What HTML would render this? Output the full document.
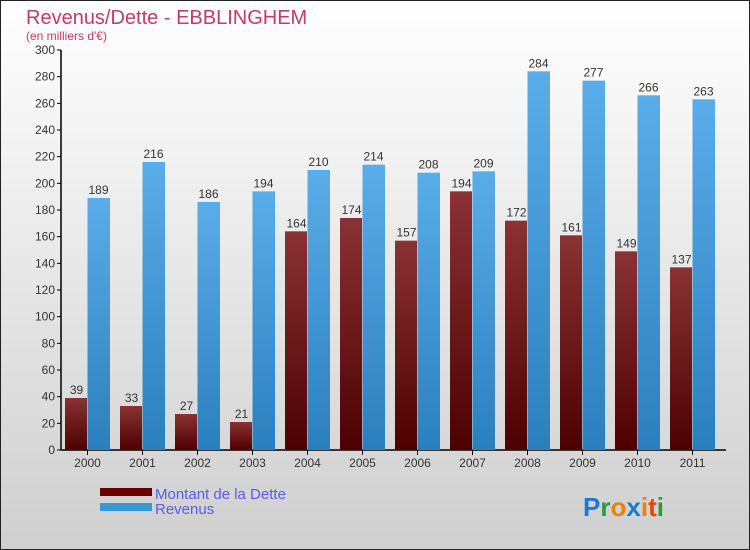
<!DOCTYPE html>
<html><head><meta charset="utf-8"><style>
body{margin:0;width:750px;height:550px;overflow:hidden}
svg{display:block;font-family:"Liberation Sans",sans-serif}
</style></head><body>
<svg id="c" width="750" height="550">
<defs>
<linearGradient id="bg" x1="0" y1="0" x2="0" y2="1"><stop offset="0" stop-color="#ffffff"/><stop offset="1" stop-color="#cfcfcf"/></linearGradient>
<linearGradient id="gd" x1="0" y1="0" x2="0" y2="1"><stop offset="0" stop-color="#8a3234"/><stop offset="1" stop-color="#4e0000"/></linearGradient>
<linearGradient id="gr" x1="0" y1="0" x2="0" y2="1"><stop offset="0" stop-color="#5aade8"/><stop offset="1" stop-color="#2a7fbd"/></linearGradient>
</defs>
<rect x="0.5" y="0.5" width="749" height="549" fill="url(#bg)" stroke="#222"/>
<text x="26" y="24" font-size="20" fill="#c8386a">Revenus/Dette - EBBLINGHEM</text>
<text x="26" y="40" font-size="12" fill="#c8386a">(en milliers d'€)</text>
<g id="plot"></g>
<rect x="100" y="488" width="52" height="8" fill="#6a0000"/>
<text x="155" y="499" font-size="15" fill="#5a5aee">Montant de la Dette</text>
<rect x="100" y="503" width="52" height="8" fill="#3399dd"/>
<text x="155" y="514" font-size="15" fill="#5a5aee">Revenus</text>
<text x="583" y="516" font-size="26" font-weight="bold"><tspan fill="#1a7ad0">P</tspan><tspan fill="#2a9a3a">r</tspan><tspan fill="#f08000">o</tspan><tspan fill="#1a7ad0">x</tspan><tspan fill="#f08000">i</tspan><tspan fill="#f04000">t</tspan><tspan fill="#2a9a3a">i</tspan></text>
</svg>
<script>
const years=["2000","2001","2002","2003","2004","2005","2006","2007","2008","2009","2010","2011"];
const dette=[39,33,27,21,164,174,157,194,172,161,149,137];
const revenus=[189,216,186,194,210,214,208,209,284,277,266,263];
const yTicks=[0,20,40,60,80,100,120,140,160,180,200,220,240,260,280,300];
const NS="http://www.w3.org/2000/svg";
const g=document.getElementById('plot');
const y=v=>450-v*400/300;
const xc=i=>87.5+i*55;
function mk(t,a,p){const e=document.createElementNS(NS,t);for(const k in a)e.setAttribute(k,a[k]);(p||g).appendChild(e);return e;}
let ax=mk('line',{x1:61,y1:50,x2:61,y2:450,stroke:'#000','stroke-width':1.5});


let bx=mk('line',{x1:61,y1:450,x2:726,y2:450,stroke:'#000','stroke-width':1.5});


yTicks.forEach(v=>{
 mk('line',{x1:57,y1:y(v),x2:61,y2:y(v),stroke:'#000'});
 const t=mk('text',{x:55,y:y(v)+4,'font-size':12,'text-anchor':'end',fill:'#333'});t.textContent=v;
 
 
});
years.forEach((yr,i)=>{
 const c=xc(i);
 mk('line',{x1:c,y1:450,x2:c,y2:455,stroke:'#000'});
 const t=mk('text',{x:c,y:467,'font-size':12,'text-anchor':'middle',fill:'#333'});t.textContent=yr;
 
 
 const b1=mk('rect',{x:c-22.5,y:y(dette[i]),width:22,height:450-y(dette[i]),fill:'url(#gd)'});
 
 
 const b2=mk('rect',{x:c,y:y(revenus[i]),width:22.5,height:450-y(revenus[i]),fill:'url(#gr)'});
 
 
 const l1=mk('text',{x:c-11,y:y(dette[i])-4,'font-size':12,'text-anchor':'middle',fill:'#333'});l1.textContent=dette[i];
 
 
 const l2=mk('text',{x:c+11,y:y(revenus[i])-4,'font-size':12,'text-anchor':'middle',fill:'#333'});l2.textContent=revenus[i];
 
 
});
</script>
</body></html>
